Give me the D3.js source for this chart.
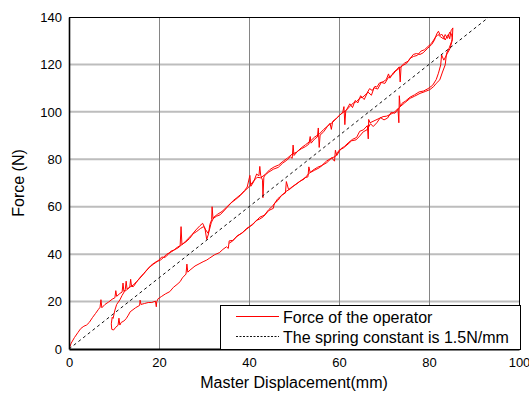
<!DOCTYPE html>
<html>
<head>
<meta charset="utf-8">
<script src="https://cdn.jsdelivr.net/npm/d3@7"></script>
<style>
  html, body { margin: 0; padding: 0; background: #fff; }
  svg { display: block; font-family: "Liberation Sans", Arial, sans-serif; }
</style>
</head>
<body>
<svg id="chart" width="529" height="394"></svg>
<script>
// Measured force trace, master displacement (mm) vs force (N), two load/unload cycles
const loading1 = [[0,0],[0.5,2.5],[1.2,4.8],[2.0,7],[2.6,8.6],[3.3,9.6],[3.9,10.1],[4.5,11.2],[5.2,13.2],[5.9,15],[6.5,16.6],[6.9,17.6],[7.1,20.8],[7.3,17.4],[8.0,18.8],[8.8,19.8],[9.6,21],[10.2,21.6],[10.4,24.6],[10.6,22.2],[11.3,23.4],[11.8,24],[12.0,27.8],[12.2,24.3],[12.5,25],[12.7,28.6],[12.9,25.3],[13.6,26.2],[14.3,27],[15.0,28.4],[15.4,29.1],[16.2,30.8],[17.0,32.6],[18,34.7],[18.8,35.8],[19.6,36.9],[20.4,37.6],[21,38.6],[21.7,40],[22.4,40.6],[23.2,41.5],[24.0,42.8],[24.7,43.6],[24.9,51.6],[25.1,44],[25.8,45.2],[26.6,46.8],[27.4,48.4],[28.2,50.2],[29.1,52],[29.7,53],[30.2,51],[30.6,46.2],[31.0,48.5],[31.3,52.5],[31.7,54.5],[31.8,60],[32.0,55],[32.8,56],[33.6,56.6],[34.6,58.6],[35.5,60.5],[36.5,62.6],[37.3,63.8],[38.2,65.2],[39.0,66.8],[39.6,68.3],[40.2,73.2],[40.4,68.6],[41.0,70.4],[41.7,73.8],[42.2,73],[42.4,77],[42.6,73.2],[43.0,71.2],[43.1,63.8],[43.3,72.5],[43.6,73.4],[44.4,74.6],[45.4,75.8],[46.5,76.6],[47.5,78.4],[48.4,79.6],[49.2,81],[49.6,80.4],[49.8,86],[50.0,81.6],[50.8,83.4],[51.6,84.4],[52.6,85.4],[53.3,86.4],[53.6,89.6],[53.8,86.8],[54.6,88.6],[55.2,89.4],[55.4,93.2],[55.6,85],[55.8,90.2],[56.6,91.6],[57.4,93.8],[58.0,95.2],[58.3,92.6],[58.6,96],[59.4,97.2],[60.2,98.7],[60.8,99.6],[61.1,102.2],[61.3,94.6],[61.5,100.5],[62.4,102.2],[63.2,103.8],[63.9,104.3],[64.6,105.8],[65.3,106.2],[66.2,107.8],[66.8,109.8],[67.4,109],[68.0,110.8],[68.4,110.4],[69.0,112.2],[69.8,112.7],[70.5,113.6],[71.0,116],[71.3,114.2],[72.1,116.6],[72.8,117.8],[73.4,119],[73.6,112.6],[73.8,119.2],[74.6,120.6],[75.4,121.4],[76.5,124.2],[77.2,124.6],[78.0,124.2],[78.7,124.9],[79.6,126.6],[80.6,128.4],[81.2,130.2],[81.7,132.8],[82.1,134],[82.5,132.2],[82.8,132.8],[83.3,131.4],[83.6,130.3],[84.0,131.8],[84.3,132.6],[84.6,130.8],[84.9,134.2],[85.3,135.4]];

const unloading1 = [[85.2,131.2],[85.0,129.6],[84.5,127],[83.9,124.7],[83.6,119.8],[83.0,116.8],[82.4,113.5],[81.6,112],[81,110.6],[80.2,109.4],[79.2,108.6],[78,107.8],[76.8,106.6],[75.8,105.7],[74.6,103.8],[73.6,102.2],[73.4,106.8],[73.3,95.4],[73.1,101.4],[72.4,100],[71.5,99],[70.6,98.2],[69.8,98],[68.9,97.2],[68.0,96.4],[66.9,95.4],[66.6,96.8],[66.5,88.6],[66.3,94.2],[65.4,92.4],[64.6,91.8],[63.9,89.2],[63.0,88.4],[62.2,87.2],[61.2,85.4],[60.4,84.4],[59.5,81.6],[59.2,83.8],[59.0,79.2],[58.4,80.6],[57.3,78.6],[56.4,77.6],[55.6,76.4],[54.6,75.4],[53.6,74.4],[53.3,76.8],[53.1,72.6],[52.4,72.2],[51.4,70.8],[50.6,69.6],[49.6,68.4],[48.8,67.2],[48.3,70.6],[48.1,65.8],[47.2,64.8],[46.5,62.8],[45.6,61.2],[45.4,59.3],[44.4,58.4],[43.2,55.8],[42.4,54.8],[41.6,54.2],[40.8,52.4],[39.5,50.9],[38.6,49.2],[37.3,47.4],[36.4,45.8],[35.6,45.6],[35.4,42.4],[35.0,43.1],[34.2,42],[33.4,40.6],[32.4,39.8],[31.3,38.4],[30.6,37.5],[29.8,36.8],[29.1,36.1],[28.0,35],[26.9,33.3],[26.4,32.4],[26.2,35.8],[26.0,31.6],[25.2,30],[24.7,28.4],[24.0,27.2],[23.2,26],[22.4,24.2],[21.4,23.2],[20.6,22.2],[19.8,21.2],[19.5,20],[19.4,17.8],[19.2,20.2],[18.4,19.6],[17.6,19.6],[16.8,19.2],[16.0,18.8],[15.8,20.6],[15.7,18.4],[14.8,17.4],[13.6,15.7],[13.2,14.3],[12.7,12.8],[12.2,11.8],[11.6,11.2],[11.3,10.1],[11.1,13],[10.9,10],[10.4,9.2],[9.9,8],[9.5,8.3],[9.4,10.6]];

const loading2 = [[9.6,13.4],[9.8,12.9],[10.2,16.4],[10.6,18.8],[11.3,20.7],[11.8,22.6],[12.3,24.2],[12.8,24.9],[13.5,26],[13.7,29.4],[13.9,26.4],[14.3,26.3],[15.0,28.2],[15.8,30.2],[16.6,31.8],[17.4,33.6],[18.2,35.2],[19.0,36.4],[19.8,37.2],[20.6,38.8],[21.3,38.6],[22.0,39.8],[22.6,41.2],[23.4,41.8],[24.2,42.6],[25.2,44.2],[26.0,45.2],[26.8,46.6],[27.6,48.6],[28.4,49.6],[29.2,50.8],[29.9,51.6],[30.4,50.2],[30.9,48.8],[31.2,50.2],[31.6,53.2],[32.2,55.6],[33.0,56.8],[34.0,58],[35.0,59.8],[36.0,61.6],[37.0,63],[38.0,64.6],[39.0,66.6],[40.0,68.4],[41.0,70.8],[41.8,72.4],[42.6,72.2],[43.6,73.6],[44.6,75.6],[45.6,76.8],[46.6,77.6],[47.6,79.2],[48.6,80.6],[49.6,82.2],[50.6,83],[51.6,84.8],[52.6,86.2],[53.6,87.6],[54.6,89.4],[55.6,90.6],[56.6,92.6],[57.6,94.2],[58.6,95.6],[59.6,97.6],[60.6,99.4],[61.6,100.6],[62.4,103.4],[63.0,101.8],[63.6,104.8],[64.2,103.8],[64.8,106.8],[65.6,105.2],[66.4,108.4],[67.2,107],[67.8,110.2],[68.6,109.6],[69.4,112.4],[70.2,112],[71.0,114.6],[71.8,115.4],[72.6,117.2],[73.4,118.4],[74.2,119.6],[75.0,120.4],[75.8,122.6],[76.6,123.4],[77.4,123.8],[78.2,125.6],[79.0,126.2],[79.8,127.6],[80.6,129],[81.4,131.4],[82.0,132.6],[82.6,131.6],[83.2,130.8],[83.6,132.6],[84.1,131],[84.6,133.6],[85.0,132.8],[85.2,130.4]];

const unloading2 = [[84.7,126.8],[84.0,124.4],[83.3,121.8],[82.8,124],[82.6,119.8],[82.1,116.3],[81.6,113.6],[80.8,111.2],[79.8,109.8],[78.8,108.8],[77.8,108.4],[76.8,107.2],[75.8,106.2],[74.8,104.6],[74.0,103.6],[73.2,101.2],[72.4,99.4],[71.6,99.8],[70.8,97.4],[70.0,96.6],[69.2,97.6],[68.4,95.4],[67.6,93.8],[67.0,95],[66.2,92.4],[65.4,91.6],[64.6,89.8],[63.8,88.2],[62.8,87.8],[62.0,86.4],[61.0,84.8],[60.0,83.8],[59.2,81.2],[58.2,80.4],[57.2,79.2],[56.2,77.4],[55.2,76.6],[54.2,75.4],[53.2,73.8],[52.2,71.6],[51.2,70.6],[50.2,69.2],[49.2,67.6],[48.2,66.4],[47.2,64.6],[46.4,63.4],[45.4,60.6],[44.4,58.8],[43.4,56.4],[42.4,55.6],[41.4,53.6],[40.4,52],[39.4,50.4],[38.4,48.8],[37.4,47.8],[36.4,45.6],[35.6,44.6]];

// Reference spring line: F = k * x
const springConstant = 1.5;   // N/mm
const springX = [0, 100];

const xTicks = [0, 20, 40, 60, 80, 100];
const yTicks = [0, 20, 40, 60, 80, 100, 120, 140];
const legendLabels = ["Force of the operator", "The spring constant is 1.5N/mm"];

const svg = d3.select("#chart");
const m = { left: 69, right: 519, top: 17, bottom: 349 };

const x = d3.scaleLinear().domain([0, 100]).range([m.left, m.right]);
const y = d3.scaleLinear().domain([0, 140]).range([m.bottom, m.top]);

svg.append("defs").append("clipPath").attr("id", "plotClip")
  .append("rect").attr("x", m.left).attr("y", m.top)
  .attr("width", m.right - m.left).attr("height", m.bottom - m.top);

// Grid
svg.append("g").selectAll("line").data(yTicks.slice(1, -1)).join("line")
  .attr("x1", m.left).attr("x2", m.right)
  .attr("y1", d => y(d)).attr("y2", d => y(d))
  .attr("stroke", "#bdbdbd").attr("stroke-width", 2);
svg.append("g").selectAll("line").data(xTicks.slice(1, -1)).join("line")
  .attr("x1", d => x(d) + 0.5).attr("x2", d => x(d) + 0.5)
  .attr("y1", m.top).attr("y2", m.bottom)
  .attr("stroke", "#858585").attr("stroke-width", 1);

// Frame
svg.append("line").attr("x1", m.left).attr("x2", m.right + 0.5)
  .attr("y1", m.top + 0.5).attr("y2", m.top + 0.5).attr("stroke", "#000").attr("stroke-width", 1);
svg.append("line").attr("x1", m.right + 0.5).attr("x2", m.right + 0.5)
  .attr("y1", m.top).attr("y2", m.bottom).attr("stroke", "#000").attr("stroke-width", 1);

// Force trace
const line = d3.line().x(d => x(d[0])).y(d => y(d[1]));
const trace = loading1.concat(unloading1, loading2, unloading2);
svg.append("path").datum(trace)
  .attr("clip-path", "url(#plotClip)")
  .attr("d", line)
  .attr("fill", "none").attr("stroke", "#ff0000").attr("stroke-width", 1);

// Spring line
svg.append("path").datum(springX.map(v => [v, springConstant * v]))
  .attr("clip-path", "url(#plotClip)")
  .attr("d", line)
  .attr("fill", "none").attr("stroke", "#111").attr("stroke-width", 1)
  .attr("stroke-dasharray", "3,3");

// Axes
const xAxis = d3.axisBottom(x).tickValues(xTicks).tickSize(0).tickPadding(9);
const gx = svg.append("g").attr("transform", `translate(0,${m.bottom})`).call(xAxis);
gx.select(".domain").attr("stroke", "#000").attr("stroke-width", 2);
gx.selectAll("text").attr("font-size", 13).attr("fill", "#000")
  .attr("font-family", "Liberation Sans, Arial, sans-serif");

const yAxis = d3.axisLeft(y).tickValues(yTicks).tickSize(0).tickPadding(7);
const gy = svg.append("g").attr("transform", `translate(${m.left},0)`).call(yAxis);
gy.select(".domain").attr("stroke", "#000").attr("stroke-width", 1.6);
gy.selectAll("text").attr("font-size", 13).attr("fill", "#000")
  .attr("font-family", "Liberation Sans, Arial, sans-serif");

// Axis titles
svg.append("text").attr("x", (m.left + m.right) / 2).attr("y", 388)
  .attr("text-anchor", "middle").attr("font-size", 16).text("Master Displacement(mm)");
svg.append("text").attr("transform", `translate(24,${(m.top + m.bottom) / 2}) rotate(-90)`)
  .attr("text-anchor", "middle").attr("font-size", 16).text("Force (N)");

// Legend
const lg = svg.append("g");
lg.append("rect").attr("x", 220.5).attr("y", 305.5).attr("width", 300).attr("height", 44)
  .attr("fill", "#fff").attr("stroke", "#000").attr("stroke-width", 1);
const rows = [316.5, 336.5];
lg.append("line").attr("x1", 236).attr("x2", 279).attr("y1", rows[0]).attr("y2", rows[0])
  .attr("stroke", "#ff0000").attr("stroke-width", 1.1);
lg.append("line").attr("x1", 236).attr("x2", 279).attr("y1", rows[1]).attr("y2", rows[1])
  .attr("stroke", "#111").attr("stroke-width", 1).attr("stroke-dasharray", "2,1.5");
lg.selectAll("text").data(legendLabels).join("text")
  .attr("x", 283).attr("y", (d, i) => rows[i] + 6)
  .attr("font-size", 16).attr("fill", "#000").text(d => d);
</script>
</body>
</html>
